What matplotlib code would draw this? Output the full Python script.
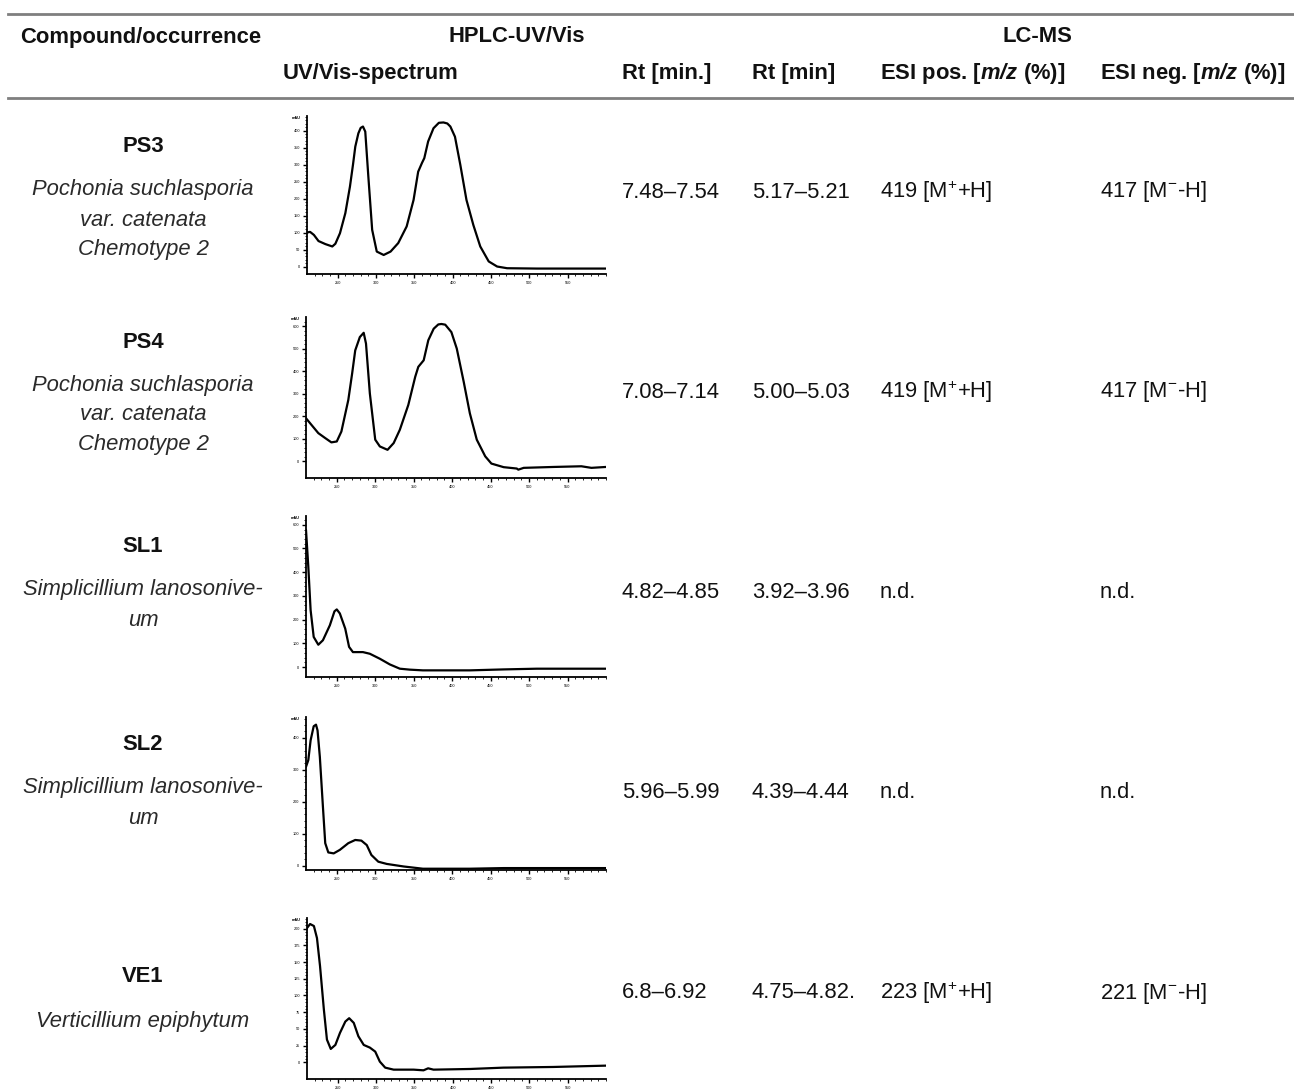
import numpy as np
import matplotlib
matplotlib.use("Agg")
import matplotlib.pyplot as plt

plt.rcParams['font.family'] = ['Liberation Sans', 'DejaVu Sans']
plt.rcParams['mathtext.fontset'] = 'custom'
plt.rcParams['mathtext.rm'] = 'Liberation Sans'
plt.rcParams['mathtext.it'] = 'Liberation Sans:italic'
plt.rcParams['mathtext.bf'] = 'Liberation Sans:bold'
plt.rcParams['mathtext.bfit'] = 'Liberation Sans:italic:bold'

W, H = 1294, 1091

# table content
codes = ["PS3", "PS4", "SL1", "SL2", "VE1"]
organisms = [
    ["Pochonia suchlasporia", "var. catenata", "Chemotype 2"],
    ["Pochonia suchlasporia", "var. catenata", "Chemotype 2"],
    ["Simplicillium lanosonive-", "um"],
    ["Simplicillium lanosonive-", "um"],
    ["Verticillium epiphytum"],
]
rt_uv = ["7.48\u20137.54", "7.08\u20137.14", "4.82\u20134.85", "5.96\u20135.99", "6.8\u20136.92"]
rt_ms = ["5.17\u20135.21", "5.00\u20135.03", "3.92\u20133.96", "4.39\u20134.44", "4.75\u20134.82."]
esi_pos = ["419 [M$^{+}$+H]", "419 [M$^{+}$+H]", "n.d.", "n.d.", "223 [M$^{+}$+H]"]
esi_neg = ["417 [M$^{-}$-H]", "417 [M$^{-}$-H]", "n.d.", "n.d.", "221 [M$^{-}$-H]"]

# UV/Vis spectra (wavelength nm, absorbance mAU)
ps3_nm = [210, 214, 219, 225, 234, 243, 247, 253, 260, 266, 270, 273, 277, 280, 283, 286, 290, 295,
          301, 310, 319, 329, 340, 349, 355, 360, 363, 368, 375, 382, 388, 393, 397, 403, 410, 418,
          427, 436, 447, 458, 471, 510, 600]
ps3_mau = [100, 102, 93, 75, 66, 59, 67, 98, 157, 235, 300, 353, 392, 408, 412, 397, 265, 108,
           44, 34, 44, 69, 118, 196, 279, 305, 319, 368, 407, 423, 424, 421, 412, 382, 299, 196,
           122, 59, 15, 0, -5, -6, -6]

ps4_nm = [210, 217, 226, 235, 243, 250, 256, 265, 270, 274, 280, 285, 288, 293, 300, 306, 316,
          324, 332, 343, 352, 356, 363, 369, 376, 382, 386, 391, 399, 406, 415, 423, 432, 443,
          451, 467, 484, 486, 493, 532, 568, 581, 600]
ps4_mau = [191, 162, 125, 103, 84, 88, 132, 272, 390, 492, 551, 570, 522, 301, 96, 66, 51,
           81, 140, 250, 375, 419, 448, 537, 588, 607, 609, 606, 573, 500, 353, 213, 96, 22,
           -10, -26, -32, -37, -29, -25, -22, -29, -25]

sl1_nm = [210, 213, 216, 220, 226, 232, 241, 247, 250, 254, 261, 266, 271, 284, 293, 306, 319,
          332, 345, 362, 423, 467, 510, 600]
sl1_mau = [578, 423, 240, 127, 94, 113, 176, 235, 243, 226, 162, 85, 63, 63, 56, 35, 11,
           -7, -11, -14, -14, -10, -7, -7]

sl2_nm = [210, 213, 216, 220, 223, 225, 228, 232, 235, 239, 246, 254, 265, 274, 282, 289,
          295, 304, 315, 337, 362, 423, 467, 553, 600]
sl2_mau = [309, 330, 392, 436, 441, 423, 340, 184, 70, 41, 38, 49, 70, 80, 78, 64,
           33, 12, 5, -3, -10, -10, -8, -8, -8]

ve1_nm = [210, 214, 219, 223, 227, 232, 236, 241, 247, 253, 260, 265, 271, 277, 284, 292,
          299, 305, 312, 323, 349, 362, 368, 375, 423, 466, 531, 600]
ve1_mau = [201, 207, 204, 186, 144, 79, 34, 20, 26, 44, 61, 66, 59, 39, 26, 22,
           16, 1, -8, -11, -11, -12, -9, -11, -10, -8, -7, -5]

spectra = [(ps3_nm, ps3_mau), (ps4_nm, ps4_mau), (sl1_nm, sl1_mau), (sl2_nm, sl2_mau), (ve1_nm, ve1_mau)]
y_ranges = [(-22, 443), (-74, 640), (-42, 637), (-14, 465), (-25, 216)]
y_steps = [50, 100, 100, 100, 25]
y_tops = [400, 600, 600, 400, 200]

# pixel boxes of the spectrum panels (left, top, right, bottom)
boxes = [(307, 116, 606, 274), (306, 317, 606, 478), (306, 516, 606, 677),
         (306, 717, 606, 870), (307, 918, 606, 1079)]
label_y = [147, 342, 547, 745, 977]
data_y = [192, 392, 592, 792, 993]

fig = plt.figure(figsize=(W / 100, H / 100), dpi=100)


def fx(x):
    return x / W


def fy(y):
    return 1 - y / H


FS = 15.8
TXT = "#111111"

# rules
for yy in [14, 98]:
    fig.add_artist(plt.Line2D([fx(8), fx(1294)], [fy(yy), fy(yy)], color="#7f7f7f", lw=2))

# header
fig.text(fx(20), fy(37), "Compound/occurrence", fontsize=FS, weight="bold", va="center", color=TXT)
fig.text(fx(517), fy(37), "HPLC-UV/Vis", fontsize=FS, weight="bold", va="center", ha="center", color=TXT)
fig.text(fx(1037), fy(37), "LC-MS", fontsize=FS, weight="bold", va="center", ha="center", color=TXT)
fig.text(fx(283), fy(74), "UV/Vis-spectrum", fontsize=FS, weight="bold", va="center", color=TXT)
fig.text(fx(622), fy(74), "Rt [min.]", fontsize=FS, weight="bold", va="center", color=TXT)
fig.text(fx(752), fy(74), "Rt [min]", fontsize=FS, weight="bold", va="center", color=TXT)
fig.text(fx(880), fy(74), r"ESI pos. [$\mathbfit{m/z}$ (%)]", fontsize=FS, weight="bold", va="center", color=TXT)
fig.text(fx(1100), fy(74), r"ESI neg. [$\mathbfit{m/z}$ (%)]", fontsize=FS, weight="bold", va="center", color=TXT)

for i in range(5):
    fig.text(fx(143), fy(label_y[i]), codes[i], fontsize=FS, weight="bold", ha="center", va="center", color=TXT)
    for j, line in enumerate(organisms[i]):
        yy = label_y[i] + 43 + 30 * j
        if len(organisms[i]) == 1:
            yy = label_y[i] + 45
        fig.text(fx(143), fy(yy), line, fontsize=FS, style="italic", ha="center", va="center", color="#2a2a2a")
    fig.text(fx(622), fy(data_y[i]), rt_uv[i], fontsize=FS, va="center", color=TXT)
    fig.text(fx(752), fy(data_y[i]), rt_ms[i], fontsize=FS, va="center", color=TXT)
    fig.text(fx(880), fy(data_y[i]), esi_pos[i], fontsize=FS, va="center", color=TXT)
    fig.text(fx(1100), fy(data_y[i]), esi_neg[i], fontsize=FS, va="center", color=TXT)

    # spectrum panel
    l, t, r, b = boxes[i]
    ax = fig.add_axes([fx(l), fy(b), fx(r - l), (b - t) / H])
    nm, mau = spectra[i]
    ax.plot(nm, mau, color="black", lw=1.6, solid_joinstyle="round", solid_capstyle="round")
    ax.set_xlim(210, 600)
    ax.set_ylim(*y_ranges[i])
    for s in ["top", "right"]:
        ax.spines[s].set_visible(False)
    for s in ["left", "bottom"]:
        ax.spines[s].set_linewidth(1.3)
    ax.set_xticks(np.arange(250, 551, 50))
    ax.set_xticks(np.arange(220, 601, 10), minor=True)
    yt = np.arange(0, y_tops[i] + 1, y_steps[i])
    ax.set_yticks(yt)
    ax.set_yticks(np.arange(0, y_ranges[i][1], y_steps[i] / 5), minor=True)
    ax.tick_params(which="major", length=3, width=1, labelsize=2.8, pad=2)
    ax.tick_params(which="minor", length=1.5, width=0.6)
    ax.text(-0.035, 1.0, "mAU", transform=ax.transAxes, fontsize=2.8, ha="center", va="top", weight="bold")
    ax.patch.set_alpha(0)

fig.savefig("out.png", dpi=100)
